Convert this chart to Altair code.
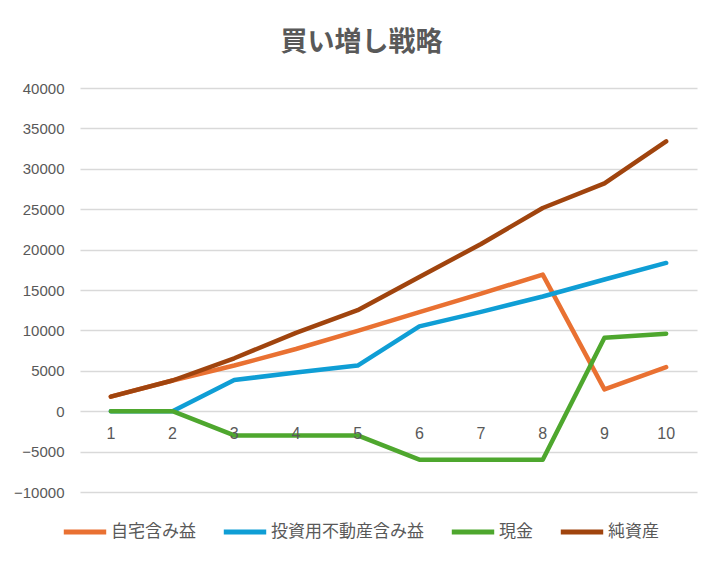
import altair as alt
import pandas as pd

years = [1, 2, 3, 4, 5, 6, 7, 8, 9, 10]
series_names = ["自宅含み益", "投資用不動産含み益", "現金", "純資産"]
home_gain = [1800, 3800, 5650, 7700, 9950, 12250, 14550, 16900, 2700, 5450]
invest_gain = [0, 0, 3850, 4800, 5650, 10500, 12300, 14200, 16300, 18350]
cash = [0, 0, -3000, -3000, -3000, -6000, -6000, -6000, 9100, 9600]
net_assets = [1800, 3800, 6550, 9700, 12500, 16600, 20700, 25150, 28200, 33400]
colors = ["#E97132", "#0F9ED5", "#4EA72E", "#A0440E"]
y_ticks = [-10000, -5000, 0, 5000, 10000, 15000, 20000, 25000, 30000, 35000, 40000]

rows = []
for name, vals in zip(series_names, [home_gain, invest_gain, cash, net_assets]):
    for i, (yr, v) in enumerate(zip(years, vals)):
        rows.append({"year": str(yr), "series": name, "value": v, "order": i})
df = pd.DataFrame(rows)
lab_df = pd.DataFrame({"year": [str(y) for y in years], "zero": [0] * len(years)})

xs = alt.X("year:N", sort=[str(y) for y in years], axis=None,
           scale=alt.Scale(paddingInner=0, paddingOuter=0.5))
ys = alt.Scale(domain=[-10000, 40000], nice=False, zero=False)

lines = alt.Chart(df).mark_line(strokeWidth=4.5, strokeCap="round", strokeJoin="round").encode(
    x=xs,
    y=alt.Y("value:Q", scale=ys, title=None,
            axis=alt.Axis(values=y_ticks, tickSize=0, domain=False, labelPadding=16,
                          labelFontSize=15, labelColor="#595959", labelFont="Liberation Sans",
                          grid=True, gridColor="#D9D9D9", gridWidth=1.3, format="d")),
    color=alt.Color("series:N", sort=series_names,
                    scale=alt.Scale(domain=series_names, range=colors),
                    legend=alt.Legend(orient="none", legendX=-19, legendY=420, direction="horizontal",
                                      title=None, symbolType="stroke", symbolSize=1800,
                                      symbolStrokeWidth=5, labelFontSize=17, labelColor="#595959",
                                      labelFont="Noto Sans CJK JP", columnPadding=17, labelOffset=2,
                                      labelLimit=300)),
    order="order:Q",
)

labels = alt.Chart(lab_df).mark_text(dy=23, fontSize=16, color="#595959", font="Liberation Sans").encode(
    x=alt.X("year:N", sort=[str(y) for y in years], axis=None,
            scale=alt.Scale(paddingInner=0, paddingOuter=0.5)),
    y=alt.Y("zero:Q", scale=ys),
    text="year:N",
)

chart = alt.layer(lines, labels).properties(
    width=617, height=404,
    padding={"left": 72, "top": 80, "right": 15, "bottom": 60},
    autosize=alt.AutoSizeParams(type="none"),
    title=alt.TitleParams("買い増し戦略", fontSize=27, font="Noto Sans CJK JP", fontWeight="bold",
                          color="#595959", anchor="middle", offset=24, dx=-27),
).configure_view(stroke=None)

chart.save("out.html", embed_options={"renderer": "svg", "actions": False})
